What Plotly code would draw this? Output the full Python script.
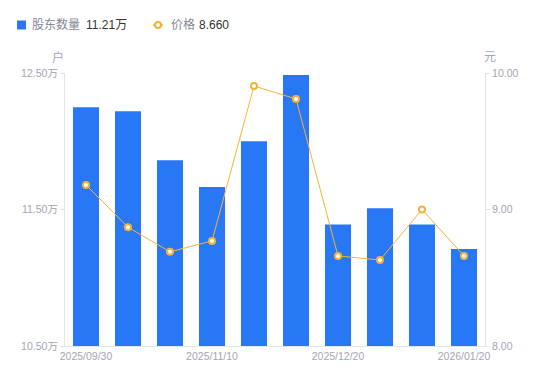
import plotly.graph_objects as go

dates = ["2025/09/30", "2025/10/20", "2025/10/31", "2025/11/10", "2025/11/20",
         "2025/11/30", "2025/12/20", "2025/12/31", "2026/01/10", "2026/01/20"]
holders = [12.25, 12.22, 11.86, 11.665, 12.00, 12.485, 11.39, 11.51, 11.39, 11.21]  # 万户
prices = [9.18, 8.87, 8.69, 8.77, 9.905, 9.81, 8.66, 8.63, 9.00, 8.66]
x_tick_labels = ["2025/09/30", "2025/11/10", "2025/12/20", "2026/01/20"]
left_ticks = [10.5, 11.5, 12.5]
left_tick_text = ["10.50万", "11.50万", "12.50万"]
right_ticks = [8, 9, 10]
right_tick_text = ["8.00", "9.00", "10.00"]

FONT = "Liberation Sans, Noto Sans CJK SC, sans-serif"
BLUE = "#2878F5"
ORANGE = "#F5B335"
GRAY = "#A3A6B4"
LEGEND_GRAY = "#858896"
DARK = "#333333"
AXIS = "#E3E5EA"

# page body has an 8px margin; figure is sized to fit inside the window
OFF = 8
W, H = 534, 365
# desired plot area in window pixels: x 65..485, y 73..346
ML = 65 - OFF
MT = 73 - OFF
MR = W - (485 - OFF)
MB = H - (346 - OFF)
PW, PH = W - ML - MR, H - MT - MB


def px(x):
    return (x - OFF - ML) / PW


def py(y):
    return (H - MB - (y - OFF)) / PH


fig = go.Figure()
fig.add_trace(go.Bar(
    x=dates, y=holders, marker_color=BLUE, marker_line_width=0,
    yaxis="y", showlegend=False,
))
fig.add_trace(go.Scatter(
    x=dates, y=prices, mode="lines+markers", yaxis="y2",
    line=dict(color=ORANGE, width=1),
    marker=dict(symbol="circle", size=6, color="white", line=dict(color=ORANGE, width=2)),
    showlegend=False,
))

annotations = [
    dict(text="户", x=px(58), y=py(57)),
    dict(text="元", x=px(490), y=py(57)),
]
annotations = [dict(a, xref="paper", yref="paper", showarrow=False,
                    xanchor="center", yanchor="middle",
                    font=dict(size=12, color=GRAY, family=FONT)) for a in annotations]

LEG_Y = 25
legend_texts = [
    ("股东数量", 30, LEGEND_GRAY),
    ("%.2f万" % holders[-1], 84, DARK),
    ("价格", 169, LEGEND_GRAY),
    ("%.3f" % prices[-1], 197, DARK),
]
for t, x0, c in legend_texts:
    annotations.append(dict(text=t, x=px(x0), y=py(LEG_Y), xref="paper", yref="paper",
                            xanchor="left", yanchor="middle", showarrow=False,
                            font=dict(size=12, color=c, family=FONT)))

shapes = [
    dict(type="rect", xref="paper", yref="paper", x0=px(17), x1=px(26),
         y0=py(LEG_Y + 4.5), y1=py(LEG_Y - 4.5),
         fillcolor=BLUE, line=dict(width=0)),
    dict(type="line", xref="paper", yref="paper", x0=px(153), x1=px(163),
         y0=py(LEG_Y), y1=py(LEG_Y),
         line=dict(color=ORANGE, width=1.5)),
    dict(type="circle", xref="paper", yref="paper", x0=px(155), x1=px(161),
         y0=py(LEG_Y + 3), y1=py(LEG_Y - 3),
         fillcolor="white", line=dict(color=ORANGE, width=2)),
]

fig.update_layout(
    width=W, height=H,
    margin=dict(l=ML, r=MR, t=MT, b=MB, autoexpand=False),
    paper_bgcolor="white", plot_bgcolor="white",
    font=dict(family=FONT, size=11, color=GRAY),
    bargap=0.38,
    showlegend=False,
    xaxis=dict(type="category", tickmode="array", tickvals=x_tick_labels, ticktext=x_tick_labels,
               showline=True, linecolor=AXIS, linewidth=1, ticks="", showgrid=False,
               tickfont=dict(size=10.5, color=GRAY), range=[-0.5, 9.5], automargin=False),
    yaxis=dict(range=[10.5, 12.5], tickvals=left_ticks, ticktext=left_tick_text,
               showline=True, linecolor=AXIS, ticks="outside", ticklen=4, tickcolor=AXIS,
               showgrid=False, zeroline=False, tickfont=dict(size=10.5, color=GRAY),
               automargin=False),
    yaxis2=dict(range=[8, 10], tickvals=right_ticks, ticktext=right_tick_text,
                overlaying="y", side="right",
                showline=True, linecolor=AXIS, ticks="outside", ticklen=4, tickcolor=AXIS,
                showgrid=False, zeroline=False, tickfont=dict(size=10.5, color=GRAY),
                automargin=False),
    annotations=annotations,
    shapes=shapes,
)

fig.write_html("out.html")
